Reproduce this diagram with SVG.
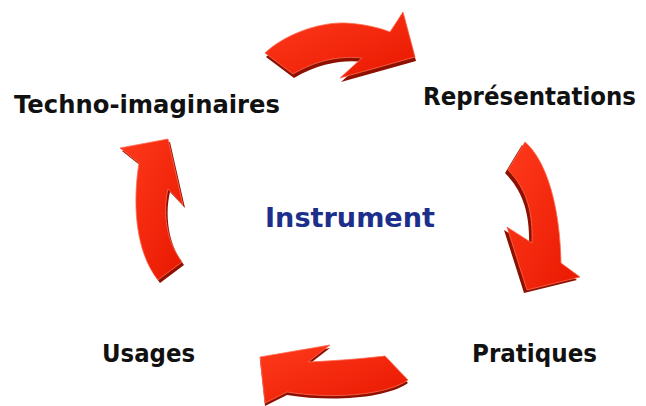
<svg xmlns="http://www.w3.org/2000/svg" width="646" height="406" viewBox="0 0 646 406">
<defs>
<linearGradient id="g" x1="0" y1="0" x2="1" y2="1">
<stop offset="0" stop-color="#ff3a1c"/>
<stop offset="1" stop-color="#e81800"/>
</linearGradient>
<style>
.sh{fill:#8e1000}
.ar{fill:url(#g);stroke:#ff6a50;stroke-width:0.8}
.t{font-family:"DejaVu Sans",Verdana,sans-serif;font-weight:bold;fill:#111}
</style>
</defs>
<rect width="646" height="406" fill="#fff"/>
<g id="connectors">
<g id="arrow-top">
<path class="sh" transform="translate(1,4)" d="M265,53 C285,34 320,22 345,23 C365,24 380,28 390,32 L403,12 L415,57 L340,78 L362,58 C345,56 320,58 293,74 Z"/>
<path class="ar" d="M265,53 C285,34 320,22 345,23 C365,24 380,28 390,32 L403,12 L415,57 L340,78 L362,58 C345,56 320,58 293,74 Z"/>
</g>
<g id="arrow-right">
<path class="sh" transform="translate(-3,3)" d="M525,142 C546,160 560,205 561,263 L580,277 L527,290 L507,227 L532,243 C533,215 528,190 508,170 Z"/>
<path class="ar" d="M525,142 C546,160 560,205 561,263 L580,277 L527,290 L507,227 L532,243 C533,215 528,190 508,170 Z"/>
</g>
<g id="arrow-bottom">
<path class="sh" transform="translate(0,3)" d="M408,380 C385,396 330,399 287,392 L265,403 L260,357 L330,345 L308,362 C330,361 360,359 385,356 Z"/>
<path class="ar" d="M408,380 C385,396 330,399 287,392 L265,403 L260,357 L330,345 L308,362 C330,361 360,359 385,356 Z"/>
</g>
<g id="arrow-left">
<path class="sh" transform="translate(2,3)" d="M158,280 C134,250 133,200 139,163 L120,148 L168,139 L183,205 L168,189 C163,210 165,240 182,262 Z"/>
<path class="ar" d="M158,280 C134,250 133,200 139,163 L120,148 L168,139 L183,205 L168,189 C163,210 165,240 182,262 Z"/>
</g>
</g>
<g id="node-techno"><text class="t" x="14" y="113" font-size="24" textLength="266" lengthAdjust="spacingAndGlyphs">Techno-imaginaires</text></g>
<g id="node-representations"><text class="t" x="423" y="105" font-size="24" textLength="213" lengthAdjust="spacingAndGlyphs">Représentations</text></g>
<g id="node-instrument"><text class="t" x="265" y="227" font-size="27" style="fill:#1c2f8a" textLength="170" lengthAdjust="spacingAndGlyphs">Instrument</text></g>
<g id="node-usages"><text class="t" x="102" y="362" font-size="24" textLength="93" lengthAdjust="spacingAndGlyphs">Usages</text></g>
<g id="node-pratiques"><text class="t" x="472" y="362" font-size="24" textLength="125" lengthAdjust="spacingAndGlyphs">Pratiques</text></g>
</svg>
